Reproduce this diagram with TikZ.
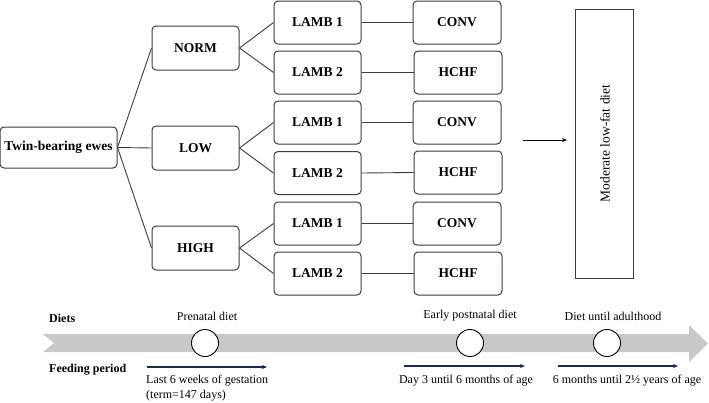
\documentclass[tikz,border=0pt]{standalone}
\usepackage{fontspec}
\setmainfont{Liberation Serif}
\usetikzlibrary{arrows.meta}
\definecolor{edgegray}{RGB}{60,60,60}
\definecolor{bandgray}{RGB}{200,200,200}
\definecolor{navy}{RGB}{25,40,75}
\begin{document}
\begin{tikzpicture}[x=1pt,y=-1pt,
  box/.style={draw=edgegray,line width=1pt,rounded corners=4pt,inner sep=0pt,
    font=\fontsize{13.5}{15}\selectfont\bfseries},
  grp/.style={box,minimum width=87pt,minimum height=44pt},
  lamb/.style={box,minimum width=87pt,minimum height=43pt},
  diet/.style={box,minimum width=88pt,minimum height=43pt},
  link/.style={draw=edgegray,line width=0.9pt},
  period/.style={draw=navy,line width=2pt,-{Stealth[length=5pt,width=4pt]}},
  lbl/.style={font=\fontsize{12}{14}\selectfont,inner sep=0pt},
  blbl/.style={font=\fontsize{12}{14}\selectfont\bfseries,inner sep=0pt},
  dot/.style={circle,draw=black,line width=0.9pt,fill=white,minimum size=27pt,inner sep=0pt}
]
\useasboundingbox (0,0) rectangle (709,402);

% tree
\node[box,minimum width=117pt,minimum height=41pt] (ewes) at (58.5,147.5) {Twin-bearing ewes};
\node[grp] (norm) at (195.5,48) {NORM};
\node[grp] (low) at (195.5,148) {LOW};
\node[grp] (high) at (195.5,248) {HIGH};

\node[lamb] (l1a) at (317.5,22.5) {LAMB 1};
\node[lamb] (l2a) at (317.5,72.5) {LAMB 2};
\node[lamb] (l1b) at (317.5,122.5) {LAMB 1};
\node[lamb] (l2b) at (317.5,173) {LAMB 2};
\node[lamb] (l1c) at (317.5,223.5) {LAMB 1};
\node[lamb] (l2c) at (317.5,273.5) {LAMB 2};

\node[diet] (c1) at (457,22.5) {CONV};
\node[diet] (h1) at (458,72.5) {HCHF};
\node[diet] (c2) at (457,122.5) {CONV};
\node[diet] (h2) at (458,172.5) {HCHF};
\node[diet] (c3) at (457,223.5) {CONV};
\node[diet] (h3) at (458,273.5) {HCHF};

\draw[link] (ewes.east) -- (norm.west);
\draw[link] (ewes.east) -- (low.west);
\draw[link] (ewes.east) -- (high.west);
\foreach \g/\a/\b in {norm/l1a/l2a,low/l1b/l2b,high/l1c/l2c}{
  \draw[link] (\g.east) -- (\a.west);
  \draw[link] (\g.east) -- (\b.west);
}
\foreach \a/\b in {l1a/c1,l2a/h1,l1b/c2,l2b/h2,l1c/c3,l2c/h3}{
  \draw[link] (\a.east) -- (\b.west);
}

\node[draw=edgegray,line width=0.9pt,minimum width=58pt,minimum height=269pt,inner sep=0pt] (mod) at (604,143.5) {};
\node[rotate=90,font=\fontsize{13.5}{15}\selectfont,inner sep=0pt] (modt) at (605,143.5) {Moderate low-fat diet};
\coordinate (arrs) at (523,140);
\coordinate (arre) at (567,140);
\draw[draw=black,line width=1pt,-{Stealth[length=5pt,width=4pt]}] (arrs) -- (arre);

% timeline band
\fill[bandgray] (43,334) -- (689,334) -- (689,325) -- (708,343.5) -- (689,362) -- (689,352) -- (43,352) -- (54,343) -- cycle;
\node[dot] (d1) at (205,343) {};
\node[dot] (d2) at (470,343) {};
\node[dot] (d3) at (607,343) {};

\node[blbl,anchor=west] (diets) at (49,318) {Diets};
\node[lbl] (pre) at (207,316) {Prenatal diet};
\node[lbl] (early) at (470,316) {Early postnatal diet};
\node[lbl] (adult) at (613,316) {Diet until adulthood};

\node[blbl,anchor=west] (feed) at (49,370) {Feeding period};
\coordinate (p1s) at (147,367); \coordinate (p1e) at (267,367);
\coordinate (p2s) at (404,366); \coordinate (p2e) at (525,366);
\coordinate (p3s) at (558,366); \coordinate (p3e) at (678,366);
\draw[period] (p1s) -- (p1e);
\draw[period] (p2s) -- (p2e);
\draw[period] (p3s) -- (p3e);

\node[lbl,anchor=west] (t1) at (146,381) {Last 6 weeks of gestation};
\node[lbl,anchor=west] (t1b) at (146,396) {(term=147 days)};
\node[lbl] (t2) at (466,381) {Day 3 until 6 months of age};
\node[lbl] (t3) at (627,381) {6 months until 2½ years of age};
\end{tikzpicture}
\end{document}
